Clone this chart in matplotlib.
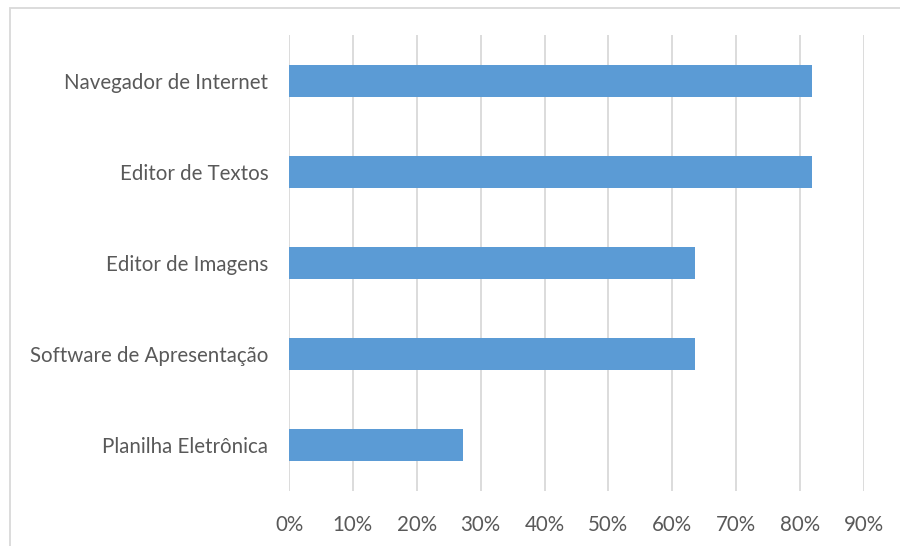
import matplotlib
matplotlib.use('Agg')
import matplotlib.pyplot as plt
from matplotlib.patches import Rectangle
from matplotlib.ticker import PercentFormatter

# dados
categorias = ['Planilha Eletrônica', 'Software de Apresentação', 'Editor de Imagens',
              'Editor de Textos', 'Navegador de Internet']
valores = [0.273, 0.636, 0.636, 0.818, 0.818]
ticks_x = [0, 0.1, 0.2, 0.3, 0.4, 0.5, 0.6, 0.7, 0.8, 0.9]

cor_barra = '#5b9bd5'
cor_texto = '#595959'
cor_grade = '#d9d9d9'

plt.rcParams['font.family'] = ['Lato', 'DejaVu Sans']

fig = plt.figure(figsize=(9, 5.46), dpi=100)
ax = fig.add_axes([289 / 900, 1 - 491 / 546, (864 - 289) / 900, (491 - 35) / 546])

ax.barh(categorias, valores, height=0.35, color=cor_barra, zorder=3)

ax.set_xlim(0, 0.9)
ax.set_ylim(-0.5, len(categorias) - 0.5)
ax.set_xticks(ticks_x)
ax.xaxis.set_major_formatter(PercentFormatter(1.0, decimals=0))
ax.grid(axis='x', color=cor_grade, linewidth=1.3, zorder=0)
ax.set_axisbelow(True)

for s in ax.spines.values():
    s.set_visible(False)
ax.tick_params(axis='both', length=0, labelsize=14.8, labelcolor=cor_texto)
ax.tick_params(axis='x', pad=17)
ax.tick_params(axis='y', pad=15)

# moldura do gráfico
fig.patches.append(Rectangle((9.5 / 900, -0.1), 1.2, 1 - 7.5 / 546 + 0.1,
                             transform=fig.transFigure, fill=False,
                             edgecolor=cor_grade, linewidth=1.3))

fig.savefig('out.png', dpi=100)
